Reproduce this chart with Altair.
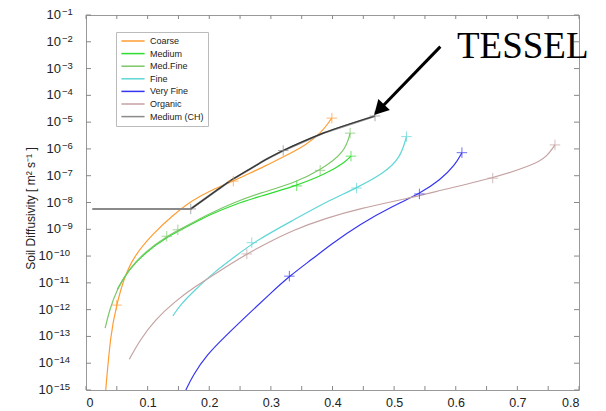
import altair as alt
import pandas as pd

# ---------------- data ----------------
series_names = ["Coarse", "Medium", "Med.Fine", "Fine", "Very Fine", "Organic", "Medium (CH)"]
series_colors = ["#ff9d33", "#2fdc2f", "#7cc76a", "#5fd6d6", "#3535f0", "#c4a2a2", "#8a8a8a"]

# soil moisture (x) and log10 of soil diffusivity (y)
coarse_x = [0.032, 0.040, 0.0497, 0.0606, 0.077, 0.109, 0.142, 0.171, 0.204, 0.239, 0.266, 0.29, 0.32, 0.358, 0.383, 0.393, 0.399]
coarse_logd = [-15.0, -12.88, -11.83, -10.89, -10.02, -9.15, -8.46, -7.93, -7.53, -7.2, -6.9, -6.65, -6.3, -5.85, -5.35, -5.04, -4.85]

medium_x = [0.051, 0.069, 0.098, 0.131, 0.158, 0.185, 0.1986, 0.242, 0.282, 0.337, 0.39, 0.42, 0.43]
medium_logd = [-11.23, -10.51, -9.83, -9.30, -8.97, -8.65, -8.48, -8.06, -7.77, -7.41, -6.93, -6.50, -6.27]

medfine_x = [0.031, 0.039, 0.05, 0.069, 0.098, 0.131, 0.158, 0.185, 0.1986, 0.242, 0.282, 0.337, 0.38, 0.42, 0.4286]
medfine_logd = [-12.69, -11.95, -11.26, -10.49, -9.80, -9.26, -8.93, -8.61, -8.44, -7.98, -7.65, -7.28, -6.80, -6.13, -5.41]

fine_x = [0.141, 0.153, 0.177, 0.209, 0.242, 0.274, 0.337, 0.39, 0.439, 0.483, 0.51, 0.52]
fine_logd = [-12.23, -11.82, -11.26, -10.58, -10.02, -9.45, -8.65, -7.97, -7.46, -6.91, -6.35, -5.54]

veryfine_x = [0.162, 0.174, 0.196, 0.223, 0.261, 0.299, 0.33, 0.369, 0.395, 0.445, 0.499, 0.541, 0.575, 0.599, 0.61]
veryfine_logd = [-15.0, -14.43, -13.69, -13.06, -12.22, -11.40, -10.75, -10.08, -9.60, -8.80, -8.12, -7.68, -7.16, -6.60, -6.14]

organic_x = [0.0703, 0.0877, 0.112, 0.144, 0.177, 0.215, 0.261, 0.29, 0.337, 0.39, 0.445, 0.52, 0.575, 0.66, 0.726, 0.748, 0.761]
organic_logd = [-13.85, -13.13, -12.38, -11.70, -11.14, -10.58, -9.92, -9.56, -9.02, -8.58, -8.22, -7.86, -7.55, -7.09, -6.60, -6.29, -5.85]

ch_x = [0.0102, 0.17, 0.215, 0.236, 0.266, 0.29, 0.32, 0.385, 0.469]
ch_logd = [-8.24, -8.24, -7.50, -7.16, -6.75, -6.42, -6.06, -5.41, -4.77]

# "+" markers on the curves
marker_series = (["Coarse"] * 3 + ["Medium"] * 2 + ["Med.Fine"] * 4 + ["Fine"] * 3
                 + ["Very Fine"] * 3 + ["Organic"] * 3 + ["Medium (CH)"] * 3)
marker_x = [0.0497, 0.239, 0.399,
            0.342, 0.43,
            0.131, 0.149, 0.38, 0.4286,
            0.269, 0.439, 0.52,
            0.33, 0.541, 0.61,
            0.261, 0.66, 0.761,
            0.17, 0.32, 0.469]
marker_logd = [-11.83, -7.2, -4.85,
               -7.38, -6.27,
               -9.26, -9.02, -6.80, -5.41,
               -9.50, -7.46, -5.54,
               -10.75, -7.68, -6.14,
               -9.92, -7.09, -5.85,
               -8.24, -6.06, -4.77]

# axis ticks
x_label_values = [0.0, 0.1, 0.2, 0.3, 0.4, 0.5, 0.6, 0.7, 0.8]
x_minor_ticks = [0.0, 0.05, 0.1, 0.15, 0.2, 0.25, 0.3, 0.35, 0.4, 0.45, 0.5, 0.55, 0.6, 0.65, 0.7, 0.75, 0.8]
y_exponents = list(range(-15, 0))

# annotation
arrow_tail = (0.575, -2.18)
arrow_shaft_end = (0.479, -4.46)
arrow_tip = (0.4675, -4.73)
tessel_pos = (0.602, -2.60)
tessel_text = "TESSEL"

# ---------------- build tables ----------------
def table(name, xs, ls):
    return pd.DataFrame({"series": name, "theta": xs, "D": [10.0 ** v for v in ls]})

curves = pd.concat([
    table("Coarse", coarse_x, coarse_logd),
    table("Medium", medium_x, medium_logd),
    table("Med.Fine", medfine_x, medfine_logd),
    table("Fine", fine_x, fine_logd),
    table("Very Fine", veryfine_x, veryfine_logd),
    table("Organic", organic_x, organic_logd),
], ignore_index=True)
ch = table("Medium (CH)", ch_x, ch_logd)
ch_dark = ch[ch["theta"] >= 0.17]
markers = pd.DataFrame({"series": marker_series, "theta": marker_x,
                        "D": [10.0 ** v for v in marker_logd]})

ylab = pd.DataFrame({"v": [10.0 ** e for e in y_exponents],
                     "base": "10",
                     "exp": ["\u2212" + str(-e) for e in y_exponents],
                     "two": [e <= -10 for e in y_exponents]})
ylab1 = ylab[~ylab["two"]]
ylab2 = ylab[ylab["two"]]

W, H = 493, 375
FONT = "Liberation Sans"
TXT = "#222222"
xscale = alt.Scale(domain=[0, 0.8], nice=False, zero=False)
yscale = alt.Scale(type="log", domain=[1e-15, 1e-1], nice=False)
cscale = alt.Scale(domain=series_names, range=series_colors)

X = alt.X("theta:Q", scale=xscale,
          axis=alt.Axis(values=x_label_values, ticks=False, domain=False, grid=False,
                        labelExpr="datum.value == 0 ? '0' : format(datum.value, '.1f')",
                        labelFontSize=12.5, labelFont=FONT, labelColor=TXT,
                        labelPadding=6, title=None))
Y = alt.Y("D:Q", scale=yscale,
          axis=alt.Axis(labels=False, ticks=False, domain=False, grid=False,
                        title="Soil Diffusivity [ m² s⁻¹ ]", titleFont=FONT,
                        titleFontSize=12, titleFontWeight="normal", titleColor=TXT,
                        titlePadding=49, titleY=193))

legend = alt.Legend(orient="none", legendX=30, legendY=17, title=None,
                    symbolType="M-2.9,0H2.9", symbolSize=64, symbolStrokeWidth=1.5,
                    symbolOffset=8, labelOffset=12,
                    labelFontSize=9, labelFont=FONT, labelColor=TXT,
                    strokeColor="#bbbbbb", fillColor="white", padding=4, rowPadding=2.6)

lines = alt.Chart(curves).mark_line(interpolate="basis", strokeWidth=1.2).encode(
    x=X, y=Y,
    color=alt.Color("series:N", scale=cscale, legend=legend),
    detail="series:N", order="theta:Q")

ch_line = alt.Chart(ch).mark_line(strokeWidth=2).encode(
    x=alt.X("theta:Q", scale=xscale), y=alt.Y("D:Q", scale=yscale),
    color=alt.Color("series:N", scale=cscale, legend=legend), order="theta:Q")

ch_dark_line = alt.Chart(ch_dark).mark_line(strokeWidth=1.2, color="#333333",
                                            interpolate="monotone").encode(
    x=alt.X("theta:Q", scale=xscale), y=alt.Y("D:Q", scale=yscale), order="theta:Q")

pts = alt.Chart(markers).mark_point(shape="M-1,0H1M0,-1V1", filled=False, size=110,
                                    strokeWidth=1, opacity=0.7).encode(
    x=alt.X("theta:Q", scale=xscale), y=alt.Y("D:Q", scale=yscale),
    color=alt.Color("series:N", scale=cscale, legend=None))

tick_col = "#888888"
xt = pd.DataFrame({"t": x_minor_ticks})
yt = pd.DataFrame({"v": [10.0 ** e for e in y_exponents]})
xt_bottom = alt.Chart(xt).mark_rule(color=tick_col).encode(
    x=alt.X("t:Q", scale=xscale), y=alt.value(H), y2=alt.value(H - 4))
xt_top = alt.Chart(xt).mark_rule(color=tick_col).encode(
    x=alt.X("t:Q", scale=xscale), y=alt.value(0), y2=alt.value(4))
yt_left = alt.Chart(yt).mark_rule(color=tick_col).encode(
    y=alt.Y("v:Q", scale=yscale), x=alt.value(0), x2=alt.value(5))
yt_right = alt.Chart(yt).mark_rule(color=tick_col).encode(
    y=alt.Y("v:Q", scale=yscale), x=alt.value(W), x2=alt.value(W - 5))

# y tick labels: "10" with a raised exponent
def base_layer(df, xpos):
    return alt.Chart(df).mark_text(align="right", baseline="middle", font=FONT,
                                   fontSize=13, color=TXT).encode(
        y=alt.Y("v:Q", scale=yscale), x=alt.value(xpos), text="base:N")

def exp_layer(df, xpos):
    return alt.Chart(df).mark_text(align="left", baseline="alphabetic", font=FONT,
                                   fontSize=9.5, color=TXT, dy=0).encode(
        y=alt.Y("v:Q", scale=yscale), x=alt.value(xpos), text="exp:N")

ylabels = [base_layer(ylab1, -25), exp_layer(ylab1, -24),
           base_layer(ylab2, -33), exp_layer(ylab2, -32)]

arrow_df = pd.DataFrame({"x1": [arrow_tail[0]], "y1": [10 ** arrow_tail[1]],
                         "x2": [arrow_shaft_end[0]], "y2": [10 ** arrow_shaft_end[1]],
                         "xt": [arrow_tip[0]], "yt": [10 ** arrow_tip[1]]})
shaft = alt.Chart(arrow_df).mark_rule(color="black", strokeWidth=3).encode(
    x=alt.X("x1:Q", scale=xscale), y=alt.Y("y1:Q", scale=yscale), x2="x2:Q", y2="y2:Q")
head = alt.Chart(arrow_df).mark_point(shape="M0,0L-1,1.8L1,1.8Z", filled=True, size=256,
                                      color="black", opacity=1, angle=224).encode(
    x=alt.X("xt:Q", scale=xscale), y=alt.Y("yt:Q", scale=yscale))

txt_df = pd.DataFrame({"x": [tessel_pos[0]], "y": [10 ** tessel_pos[1]], "label": [tessel_text]})
tessel = alt.Chart(txt_df).mark_text(align="left", baseline="alphabetic", font="Liberation Serif",
                                     fontSize=37, color="black").encode(
    x=alt.X("x:Q", scale=xscale), y=alt.Y("y:Q", scale=yscale), text="label:N")

chart = alt.layer(lines, ch_line, ch_dark_line, pts, xt_bottom, xt_top, yt_left, yt_right,
                  *ylabels, shaft, head, tessel).properties(
    width=W, height=H,
    autosize=alt.AutoSizeParams(type="none"),
    padding={"left": 86, "top": 15, "right": 27, "bottom": 21},
    background="white",
).configure_view(stroke="#999999", strokeWidth=1)

chart.save("out.html", embed_options={"renderer": "svg", "actions": False})
